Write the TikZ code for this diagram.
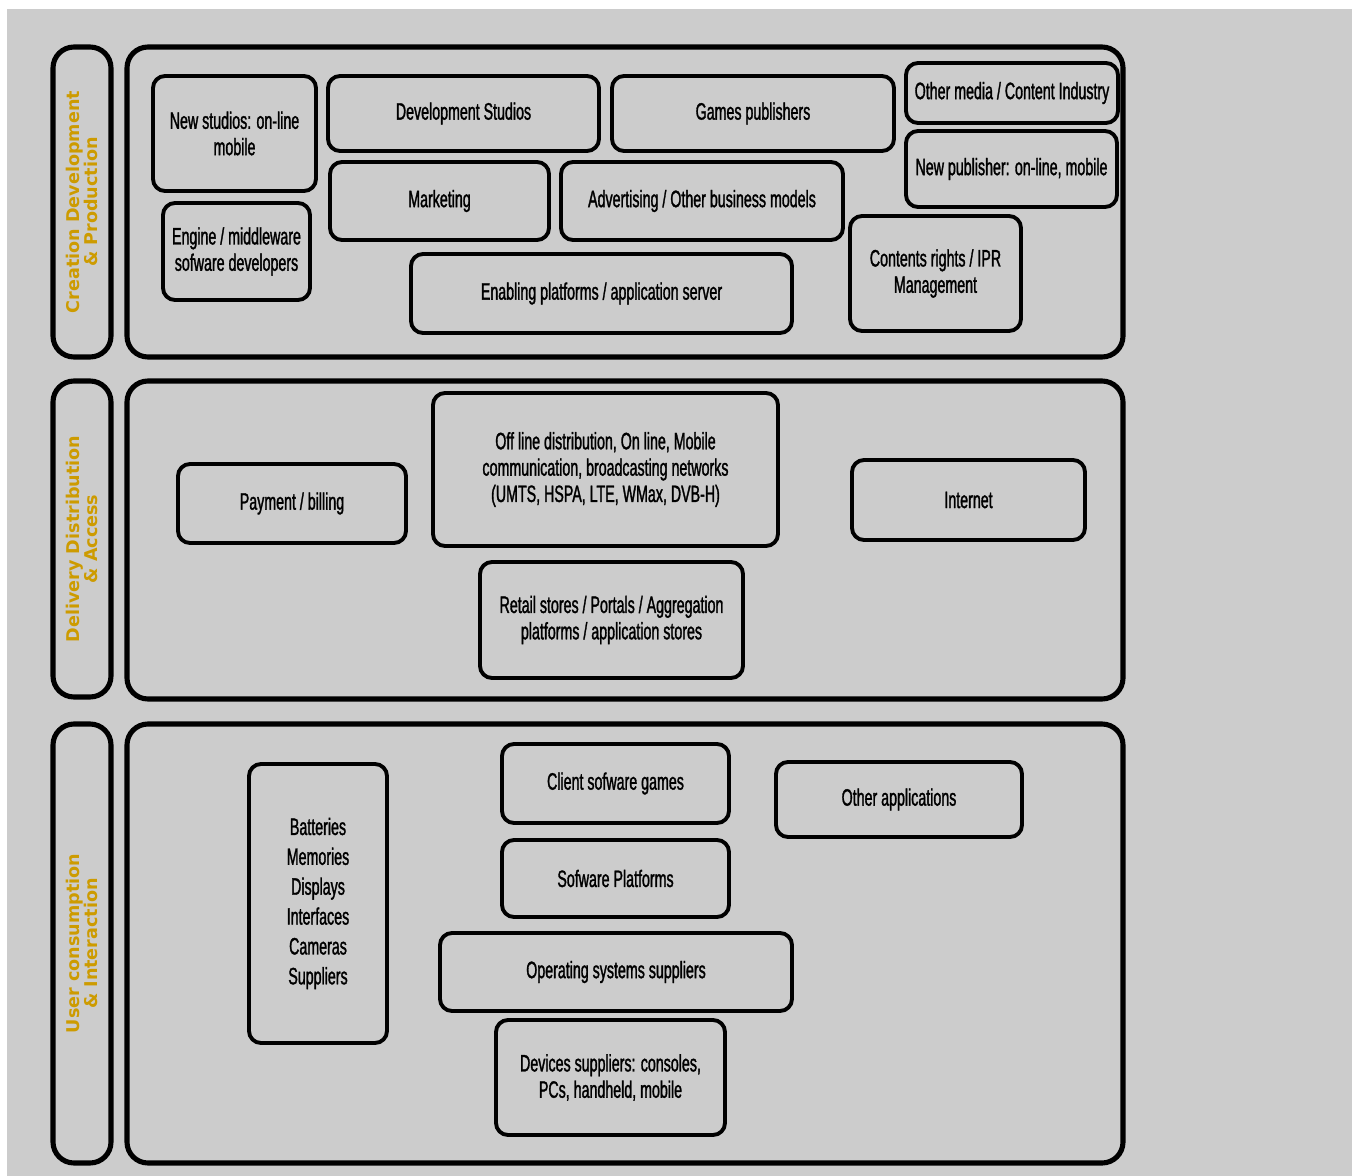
\documentclass[tikz,border=0pt]{standalone}
\usepackage{fontspec}
\setmainfont[FakeStretch=0.6,FakeBold=1.3]{Liberation Sans}
\newfontfamily\sidefont{DejaVu Sans}
\definecolor{sidegold}{RGB}{205,155,0}
\definecolor{paper}{RGB}{204,204,204}
\tikzset{main base/.style={draw,text centered,align=center}, }
\tikzset{main node/.style={rectangle,rounded corners=0.24cm,line width=2.2pt,main base,
    font=\fontsize{13.5}{15}\selectfont}, }
\tikzset{main panel/.style={rectangle,draw,rounded corners=0.42cm,line width=2.9pt}, }
\tikzset{side text/.style={rotate=90,text=sidegold,align=center,
    font=\sidefont\bfseries\fontsize{10}{10.5}\selectfont}, }
\tikzset{wh/.style 2 args={minimum width=#1*0.02cm,minimum height=#2*0.02cm,inner sep=0pt}, }

\begin{document}
\begin{tikzpicture}[x=0.02cm,y=-0.02cm]
  \useasboundingbox (0,0) rectangle (1352,1176);
  \fill[white] (0,0) rectangle (1352,1176);
  \fill[paper] (7,9) rectangle (1352,1176);
  % three layers: side label + panel
  \foreach \n/\y/\h/\t in {1/202/310/{Creation Development\\\& Production},
                           2/539/316/{Delivery Distribution\\\& Access},
                           3/943.5/439/{User consumption\\\& Interaction}}{
    \node[main panel,wh={58}{\h}] (side\n) at (82,\y) {};
    \node[side text] (label\n) at (side\n) {\t};
  }
  \node[main panel,wh={996}{310}] (panel1) at (625,202) {};
  \node[main panel,wh={996}{318}] (panel2) at (625,540) {};
  \node[main panel,wh={996}{439}] (panel3) at (625,943.5) {};
  %
  % creation, development & production
  \node[main node,wh={163}{115}] (newstudios) at (234.5,133.5) {New studios: on-line\\mobile};
  \node[main node,wh={147}{97}] (engine) at (236.5,251.5) {Engine / middleware\\sofware developers};
  \node[main node,wh={271}{75}] (devstudios) at (463.5,113.5) {Development Studios};
  \node[main node,wh={282}{75}] (gamespub) at (753,113.5) {Games publishers};
  \node[main node,wh={212}{60}] (othermedia) at (1012,93) {Other media / Content Industry};
  \node[main node,wh={211}{76}] (newpub) at (1011.5,169) {New publisher: on-line, mobile};
  \node[main node,wh={219}{78}] (marketing) at (439.5,201) {Marketing};
  \node[main node,wh={282}{78}] (advert) at (702,201) {Advertising / Other business models};
  \node[main node,wh={381}{79}] (enabling) at (601.5,293.5) {Enabling platforms / application server};
  \node[main node,wh={171}{115}] (rights) at (935.5,273.5) {Contents rights / IPR\\Management};
  %
  % delivery, distribution & access
  \node[main node,wh={228}{79}] (payment) at (292,503.5) {Payment / billing};
  \node[main node,wh={345}{153}] (offline) at (605.5,469.5) {Off line distribution, On line, Mobile\\communication, broadcasting networks\\(UMTS, HSPA, LTE, WMax, DVB-H)};
  \node[main node,wh={233}{80}] (internet) at (968.5,500) {Internet};
  \node[main node,wh={263}{116}] (retail) at (611.5,620) {Retail stores / Portals / Aggregation\\platforms / application stores};
  %
  % user consumption & interaction
  \node[main node,wh={138}{279},font=\fontsize{13.5}{17}\selectfont] (hardware) at (318,903.5) {Batteries\\Memories\\Displays\\Interfaces\\Cameras\\Suppliers};
  \node[main node,wh={227}{79}] (client) at (615.5,783.5) {Client sofware games};
  \node[main node,wh={246}{75}] (otherapps) at (899,799.5) {Other applications};
  \node[main node,wh={227}{77}] (swplat) at (615.5,878.5) {Sofware Platforms};
  \node[main node,wh={352}{78}] (ossup) at (616,972) {Operating systems suppliers};
  \node[main node,wh={229}{115}] (devices) at (610.5,1077.5) {Devices suppliers: consoles,\\PCs, handheld, mobile};
\end{tikzpicture}
\end{document}
